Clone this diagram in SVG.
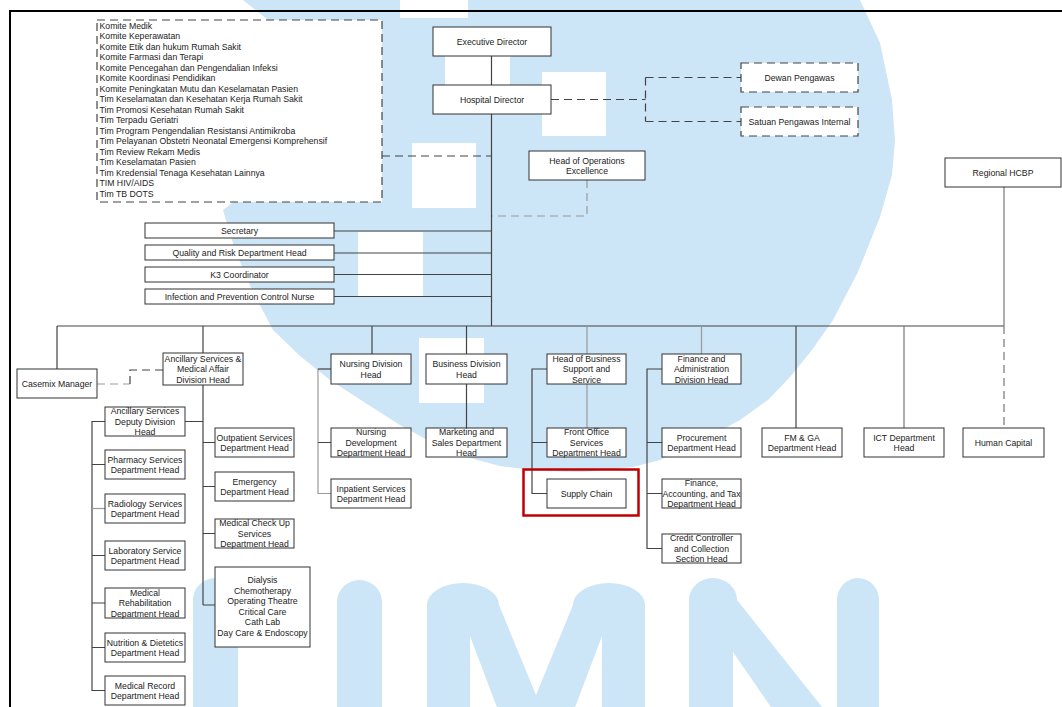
<svg xmlns="http://www.w3.org/2000/svg" width="1062" height="707" viewBox="0 0 1062 707">
<style>
.bg{fill:#fff}
.wm{fill:#cce5f7}
.wh{fill:#fff}
.box{fill:#fff;stroke:#333;stroke-width:1}
.dbox{fill:#fff;stroke:#444;stroke-width:1.2;stroke-dasharray:8 5}
.t{font-family:"Liberation Sans",Arial,sans-serif;font-size:8.7px;fill:#222;text-anchor:middle}
.lt{text-anchor:start}
.c{fill:none;stroke:#444;stroke-width:1.2}
.g{stroke:#999}
.m{stroke:#777}
.d{stroke-dasharray:8 5}
.frame{fill:none;stroke:#000;stroke-width:2}
.hl{fill:none;stroke:#c00000;stroke-width:2.5}
</style>
<rect class="bg" x="0" y="0" width="1062" height="707"/>
<g id="watermark">
<polygon class="wm" points="238,-5 243,0 268,20 300,60 300,150 223,210 235,250 252,290 273,330 300,356 330,380 367,404 400,425 433,443 466,457 500,466 540,471 583,472 633,467 660,460 700,442 740,420 768,400 790,377 812,350 833,320 858,272 880,217 892,175 895,140 892,100 880,43 860,0 858,-5"/>
<rect class="wh" x="400" y="-5" width="68" height="23"/>
<rect class="wh" x="445" y="30" width="65" height="70"/>
<rect class="wh" x="542" y="72" width="64" height="64"/>
<rect class="wh" x="412" y="143" width="64" height="65"/>
<rect class="wh" x="358" y="232" width="65" height="64"/>
<rect class="wh" x="419" y="338" width="65" height="65"/>
<path class="wm" d="M193,710 V600 A22.5,22 0 0 1 238,600 V710 Z"/>
<path class="wm" d="M337,710 V602 A22.5,22 0 0 1 382,602 V710 Z"/>
<path class="wm" d="M427,710 V605 A36,22 0 0 1 499,605 L536,695 L573,605 A36,22 0 0 1 645,605 V710 H602 V636 L574,710 H498 L470,636 V710 Z"/>
<path class="wm" d="M689,710 V600 A24,22 0 0 1 737,600 L822,707 L826,710 H773 L733,652 V710 Z"/>
<path class="wm" d="M837,710 V600 A21,22 0 0 1 879,600 V710 Z"/>
</g>
<g id="frame">
<path class="frame" d="M10,707 V11 H1062"/>
</g>
<g id="connectors">
<path class="c" d="M491.5,56 V85 M491.5,114 V326"/>
<path class="c d" d="M551,99.5 H645.5 M645.5,77.5 V121.5 M645.5,77.5 H741 M645.5,121.5 H741"/>
<path class="c d" d="M382,156 H491"/>
<path class="c g d" d="M587,180 V216 H492"/>
<path class="c" d="M334,231 H491 M334,253 H491 M334,274.5 H491 M334,296.5 H491"/>
<path class="c" d="M57,326 H1004 M57,326 V369 M203,326 V353 M372,326 V354 M466.5,326 V354 M796,326 V428"/>
<path class="c g" d="M587,326 V354 M701.5,326 V354"/>
<path class="c m" d="M904,326 V428 M1004,187 V326"/>
<path class="c m d" d="M1004,326 V428"/>
<path class="c g d" d="M97,384 H130"/>
<path class="c d" d="M130,384 V370 H163"/>
<path class="c" d="M203,385 V605 M203,442.5 H215 M203,486.5 H215 M203,533.5 H215 M203,605 H215 M185,421.5 H203"/>
<path class="c" d="M105,421.5 H92 V690.5 H105 M92,464.5 H105 M92,555.5 H105 M92,603 H105 M92,647.5 H105"/>
<path class="c g" d="M92,508.5 H105"/>
<path class="c g" d="M331,369 H318 V493.5 H331"/>
<path class="c" d="M318,442.5 H331 M331,369 H318"/>
<path class="c" d="M466.5,384 V428"/>
<path class="c g" d="M587,384 V428"/>
<path class="c" d="M547,369 H532 V493.5 H547 M532,442.5 H547"/>
<path class="c" d="M662,369 H647 V548.5 H662 M647,442.5 H662 M647,493.5 H662"/>
</g>
<g id="committees">
<rect class="dbox" x="97" y="20" width="285" height="182"/>
<text class="t lt" x="99.5" y="28.7">Komite Medik</text>
<text class="t lt" x="99.5" y="39.2">Komite Keperawatan</text>
<text class="t lt" x="99.5" y="49.7">Komite Etik dan hukum Rumah Sakit</text>
<text class="t lt" x="99.5" y="60.2">Komite Farmasi dan Terapi</text>
<text class="t lt" x="99.5" y="70.7">Komite Pencegahan dan Pengendalian Infeksi</text>
<text class="t lt" x="99.5" y="81.2">Komite Koordinasi Pendidikan</text>
<text class="t lt" x="99.5" y="91.7">Komite Peningkatan Mutu dan Keselamatan Pasien</text>
<text class="t lt" x="99.5" y="102.2">Tim Keselamatan dan Kesehatan Kerja Rumah Sakit</text>
<text class="t lt" x="99.5" y="112.7">Tim Promosi Kesehatan Rumah Sakit</text>
<text class="t lt" x="99.5" y="123.2">Tim Terpadu Geriatri</text>
<text class="t lt" x="99.5" y="133.7">Tim Program Pengendalian Resistansi Antimikroba</text>
<text class="t lt" x="99.5" y="144.2">Tim Pelayanan Obstetri Neonatal Emergensi Komprehensif</text>
<text class="t lt" x="99.5" y="154.7">Tim Review Rekam Medis</text>
<text class="t lt" x="99.5" y="165.2">Tim Keselamatan Pasien</text>
<text class="t lt" x="99.5" y="175.7">Tim Kredensial Tenaga Kesehatan Lainnya</text>
<text class="t lt" x="99.5" y="186.2">TIM HIV/AIDS</text>
<text class="t lt" x="99.5" y="196.7">Tim TB DOTS</text>
</g>
<g id="executive-director"><rect class="box" x="433" y="27" width="118" height="29"/><text class="t" x="492" y="44.7">Executive Director</text></g>
<g id="hospital-director"><rect class="box" x="433" y="85" width="118" height="29"/><text class="t" x="492" y="102.7">Hospital Director</text></g>
<g id="dewan-pengawas"><rect class="dbox" x="741" y="63" width="117" height="29"/><text class="t" x="799.5" y="80.7">Dewan Pengawas</text></g>
<g id="satuan-pengawas"><rect class="dbox" x="741" y="107" width="117" height="29"/><text class="t" x="799.5" y="124.7">Satuan Pengawas Internal</text></g>
<g id="head-operations"><rect class="box" x="529" y="151" width="116" height="29"/><text class="t" x="587" y="163.5">Head of Operations</text><text class="t" x="587" y="174">Excellence</text></g>
<g id="regional-hcbp"><rect class="box" x="945" y="158" width="116" height="29"/><text class="t" x="1003" y="175.7">Regional HCBP</text></g>
<g id="secretary"><rect class="box" x="145" y="223" width="189" height="15"/><text class="t" x="239.5" y="233.7">Secretary</text></g>
<g id="quality"><rect class="box" x="145" y="245" width="189" height="15"/><text class="t" x="239.5" y="255.7">Quality and Risk Department Head</text></g>
<g id="k3"><rect class="box" x="145" y="267" width="189" height="15"/><text class="t" x="239.5" y="277.7">K3 Coordinator</text></g>
<g id="infection"><rect class="box" x="145" y="289" width="189" height="15"/><text class="t" x="239.5" y="299.7">Infection and Prevention Control Nurse</text></g>
<g id="casemix"><rect class="box" x="17" y="369" width="80" height="29"/><text class="t" x="57" y="386.7">Casemix Manager</text></g>
<g id="ancillary"><rect class="box" x="163" y="353" width="80" height="32"/><text class="t" x="203" y="361.7">Ancillary Services &amp;</text><text class="t" x="203" y="372.2">Medical Affair</text><text class="t" x="203" y="382.7">Division Head</text></g>
<g id="nursing"><rect class="box" x="331" y="354" width="80" height="30"/><text class="t" x="371" y="367.2">Nursing Division</text><text class="t" x="371" y="378">Head</text></g>
<g id="business"><rect class="box" x="426" y="354" width="81" height="30"/><text class="t" x="466.5" y="367.2">Business Division</text><text class="t" x="466.5" y="378">Head</text></g>
<g id="business-support"><rect class="box" x="547" y="354" width="79" height="30"/><text class="t" x="586.5" y="361.7">Head of Business</text><text class="t" x="586.5" y="372.2">Support and</text><text class="t" x="586.5" y="382.7">Service</text></g>
<g id="finance-admin"><rect class="box" x="662" y="354" width="79" height="30"/><text class="t" x="701.5" y="361.7">Finance and</text><text class="t" x="701.5" y="372.2">Administration</text><text class="t" x="701.5" y="382.7">Division Head</text></g>
<g id="nursing-dev"><rect class="box" x="331" y="428" width="80" height="29"/><text class="t" x="371" y="435.2">Nursing</text><text class="t" x="371" y="445.7">Development</text><text class="t" x="371" y="456.2">Department Head</text></g>
<g id="marketing"><rect class="box" x="426" y="428" width="81" height="29"/><text class="t" x="466.5" y="435.2">Marketing and</text><text class="t" x="466.5" y="445.7">Sales Department</text><text class="t" x="466.5" y="456.2">Head</text></g>
<g id="front-office"><rect class="box" x="547" y="428" width="79" height="29"/><text class="t" x="586.5" y="435.2">Front Office</text><text class="t" x="586.5" y="445.7">Services</text><text class="t" x="586.5" y="456.2">Department Head</text></g>
<g id="procurement"><rect class="box" x="662" y="428" width="79" height="29"/><text class="t" x="701.5" y="440.5">Procurement</text><text class="t" x="701.5" y="451">Department Head</text></g>
<g id="fmga"><rect class="box" x="762" y="428" width="80" height="29"/><text class="t" x="802" y="440.5">FM &amp; GA</text><text class="t" x="802" y="451">Department Head</text></g>
<g id="ict"><rect class="box" x="864" y="428" width="80" height="29"/><text class="t" x="904" y="440.5">ICT Department</text><text class="t" x="904" y="451">Head</text></g>
<g id="human-capital"><rect class="box" x="963" y="428" width="81" height="29"/><text class="t" x="1003.5" y="445.7">Human Capital</text></g>
<g id="inpatient"><rect class="box" x="331" y="479" width="80" height="29"/><text class="t" x="371" y="491.5">Inpatient Services</text><text class="t" x="371" y="502">Department Head</text></g>
<g id="supply-chain"><rect class="box" x="547" y="479" width="79" height="29"/><text class="t" x="586.5" y="496.7">Supply Chain</text><rect class="hl" x="523.5" y="469.5" width="115" height="46"/></g>
<g id="finance-accounting"><rect class="box" x="662" y="479" width="79" height="29"/><text class="t" x="701.5" y="486.2">Finance,</text><text class="t" x="701.5" y="496.7">Accounting, and Tax</text><text class="t" x="701.5" y="507.2">Department Head</text></g>
<g id="credit"><rect class="box" x="662" y="534" width="79" height="29"/><text class="t" x="701.5" y="541.2">Credit Controller</text><text class="t" x="701.5" y="551.7">and Collection</text><text class="t" x="701.5" y="562.2">Section Head</text></g>
<g id="deputy"><rect class="box" x="105" y="407" width="80" height="29"/><text class="t" x="145" y="414.2">Ancillary Services</text><text class="t" x="145" y="424.7">Deputy Division</text><text class="t" x="145" y="435.2">Head</text></g>
<g id="pharmacy"><rect class="box" x="105" y="450" width="80" height="29"/><text class="t" x="145" y="462.5">Pharmacy Services</text><text class="t" x="145" y="473">Department Head</text></g>
<g id="radiology"><rect class="box" x="105" y="494" width="80" height="29"/><text class="t" x="145" y="506.5">Radiology Services</text><text class="t" x="145" y="517">Department Head</text></g>
<g id="laboratory"><rect class="box" x="105" y="541" width="80" height="29"/><text class="t" x="145" y="553.5">Laboratory Service</text><text class="t" x="145" y="564">Department Head</text></g>
<g id="rehab"><rect class="box" x="105" y="588" width="80" height="30"/><text class="t" x="145" y="595.7">Medical</text><text class="t" x="145" y="606.2">Rehabilitation</text><text class="t" x="145" y="616.7">Department Head</text></g>
<g id="nutrition"><rect class="box" x="105" y="633" width="80" height="29"/><text class="t" x="145" y="645.5">Nutrition &amp; Dietetics</text><text class="t" x="145" y="656">Department Head</text></g>
<g id="medical-record"><rect class="box" x="105" y="676" width="80" height="29"/><text class="t" x="145" y="688.5">Medical Record</text><text class="t" x="145" y="699">Department Head</text></g>
<g id="outpatient"><rect class="box" x="215" y="428" width="79" height="29"/><text class="t" x="254.5" y="440.5">Outpatient Services</text><text class="t" x="254.5" y="451">Department Head</text></g>
<g id="emergency"><rect class="box" x="215" y="472" width="79" height="29"/><text class="t" x="254.5" y="484.5">Emergency</text><text class="t" x="254.5" y="495">Department Head</text></g>
<g id="mcu"><rect class="box" x="215" y="519" width="79" height="29"/><text class="t" x="254.5" y="526.2">Medical Check Up</text><text class="t" x="254.5" y="536.7">Services</text><text class="t" x="254.5" y="547.2">Department Head</text></g>
<g id="dialysis"><rect class="box" x="215" y="567" width="95" height="80"/><text class="t" x="262.5" y="583.2">Dialysis</text><text class="t" x="262.5" y="593.7">Chemotherapy</text><text class="t" x="262.5" y="604.2">Operating Theatre</text><text class="t" x="262.5" y="614.7">Critical Care</text><text class="t" x="262.5" y="625.2">Cath Lab</text><text class="t" x="262.5" y="635.7">Day Care &amp; Endoscopy</text></g>
</svg>
